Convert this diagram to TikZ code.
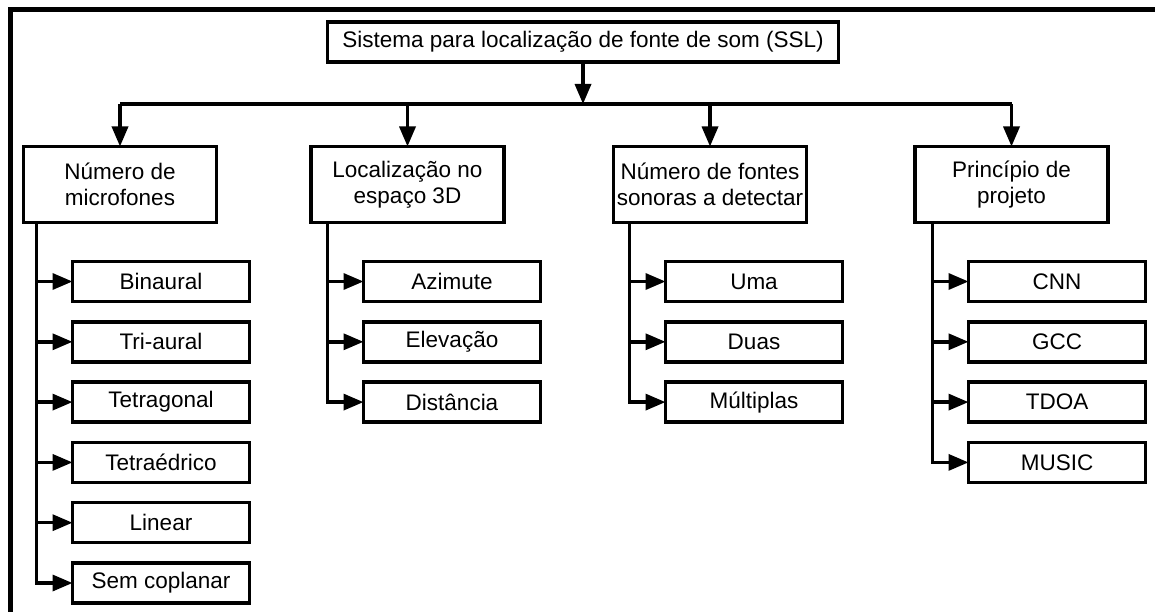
\documentclass[tikz,border=0pt]{standalone}
\usepackage{fontspec}
\setmainfont{Liberation Sans}
\usetikzlibrary{positioning,arrows.meta}

\begin{document}
\begin{tikzpicture}[x=1pt,y=-1pt,line width=3.4pt,node distance=20.3pt,
				arr/.style = {-{Triangle[length=20pt,width=16pt]}},
				top node/.style = {draw, inner sep=2pt, outer sep=0pt, minimum width=511pt, minimum height=40pt, font=\fontsize{22.5}{26.5}\selectfont},
				main node/.style = {draw, align=center, inner sep=2pt, outer sep=0pt, minimum width=193pt, minimum height=76pt, font=\fontsize{22.5}{26.5}\selectfont},
				leaf node/.style = {draw, inner sep=2pt, outer sep=0pt, minimum width=177pt, minimum height=40pt, font=\fontsize{22.5}{26.5}\selectfont}]
				
				\useasboundingbox (0,0) rectangle (1155,612);
				\draw[line width=4.5pt] (1160,9.5) -- (10.5,9.5) -- (10.5,620);
				
				\node[top node] (0) at (583,42) {Sistema para localização de fonte de som (SSL)};
				\node[main node] (1) at (120,184.5) {Número de\\microfones};
				\node[main node] (2) at (407.5,184.5) {Localização no\\espaço 3D};
				\node[main node] (3) at (710,184.5) {Número de fontes\\sonoras a detectar};
				\node[main node] (4) at (1011.5,184.5) {Princípio de\\projeto};
				
				\node[leaf node] (11) at (161,281.5) {Binaural};
				\node[leaf node] [below=of 11] (12) {Tri-aural};
				\node[leaf node] [below=of 12] (13) {Tetragonal};
				\node[leaf node] [below=of 13] (14) {Tetraédrico};
				\node[leaf node] [below=of 14] (15) {Linear};
				\node[leaf node] [below=of 15] (16) {Sem coplanar};
				
				\node[leaf node] (21) at (452,281.5) {Azimute};
				\node[leaf node] [below=of 21] (22) {Elevação};
				\node[leaf node] [below=of 22] (23) {Distância};
				
				\node[leaf node] (31) at (754,281.5) {Uma};
				\node[leaf node] [below=of 31] (32) {Duas};
				\node[leaf node] [below=of 32] (33) {Múltiplas};
				
				\node[leaf node] (41) at (1057,281.5) {CNN};
				\node[leaf node] [below=of 41] (42) {GCC};
				\node[leaf node] [below=of 42] (43) {TDOA};
				\node[leaf node] [below=of 43] (44) {MUSIC};
				
				\coordinate (b) at (583,104);
				\draw[arr] (0) -- (0 |- b);
				\draw (1 |- b) -- (4 |- b);
				\draw[arr] (1 |- b) -- (1);
				\draw[arr] (2 |- b) -- (2);
				\draw[arr] (3 |- b) -- (3);
				\draw[arr] (4 |- b) -- (4);
				
				% ramos
				\coordinate (t1) at ([xshift=-36pt]11.west);
				\coordinate (t2) at ([xshift=-36pt]21.west);
				\coordinate (t3) at ([xshift=-36pt]31.west);
				\coordinate (t4) at ([xshift=-36pt]41.west);
				
				\draw[arr] (t1 |- 1.south) |- (16);
				\draw[arr] (t1 |- 11) -- (11);
				\draw[arr] (t1 |- 12) -- (12);
				\draw[arr] (t1 |- 13) -- (13);
				\draw[arr] (t1 |- 14) -- (14);
				\draw[arr] (t1 |- 15) -- (15);
				
				\draw[arr] (t2 |- 2.south) |- (23);
				\draw[arr] (t2 |- 21) -- (21);
				\draw[arr] (t2 |- 22) -- (22);
				
				\draw[arr] (t3 |- 3.south) |- (33);
				\draw[arr] (t3 |- 31) -- (31);
				\draw[arr] (t3 |- 32) -- (32);
				
				\draw[arr] (t4 |- 4.south) |- (44);
				\draw[arr] (t4 |- 41) -- (41);
				\draw[arr] (t4 |- 42) -- (42);
				\draw[arr] (t4 |- 43) -- (43);
\end{tikzpicture}
\end{document}
